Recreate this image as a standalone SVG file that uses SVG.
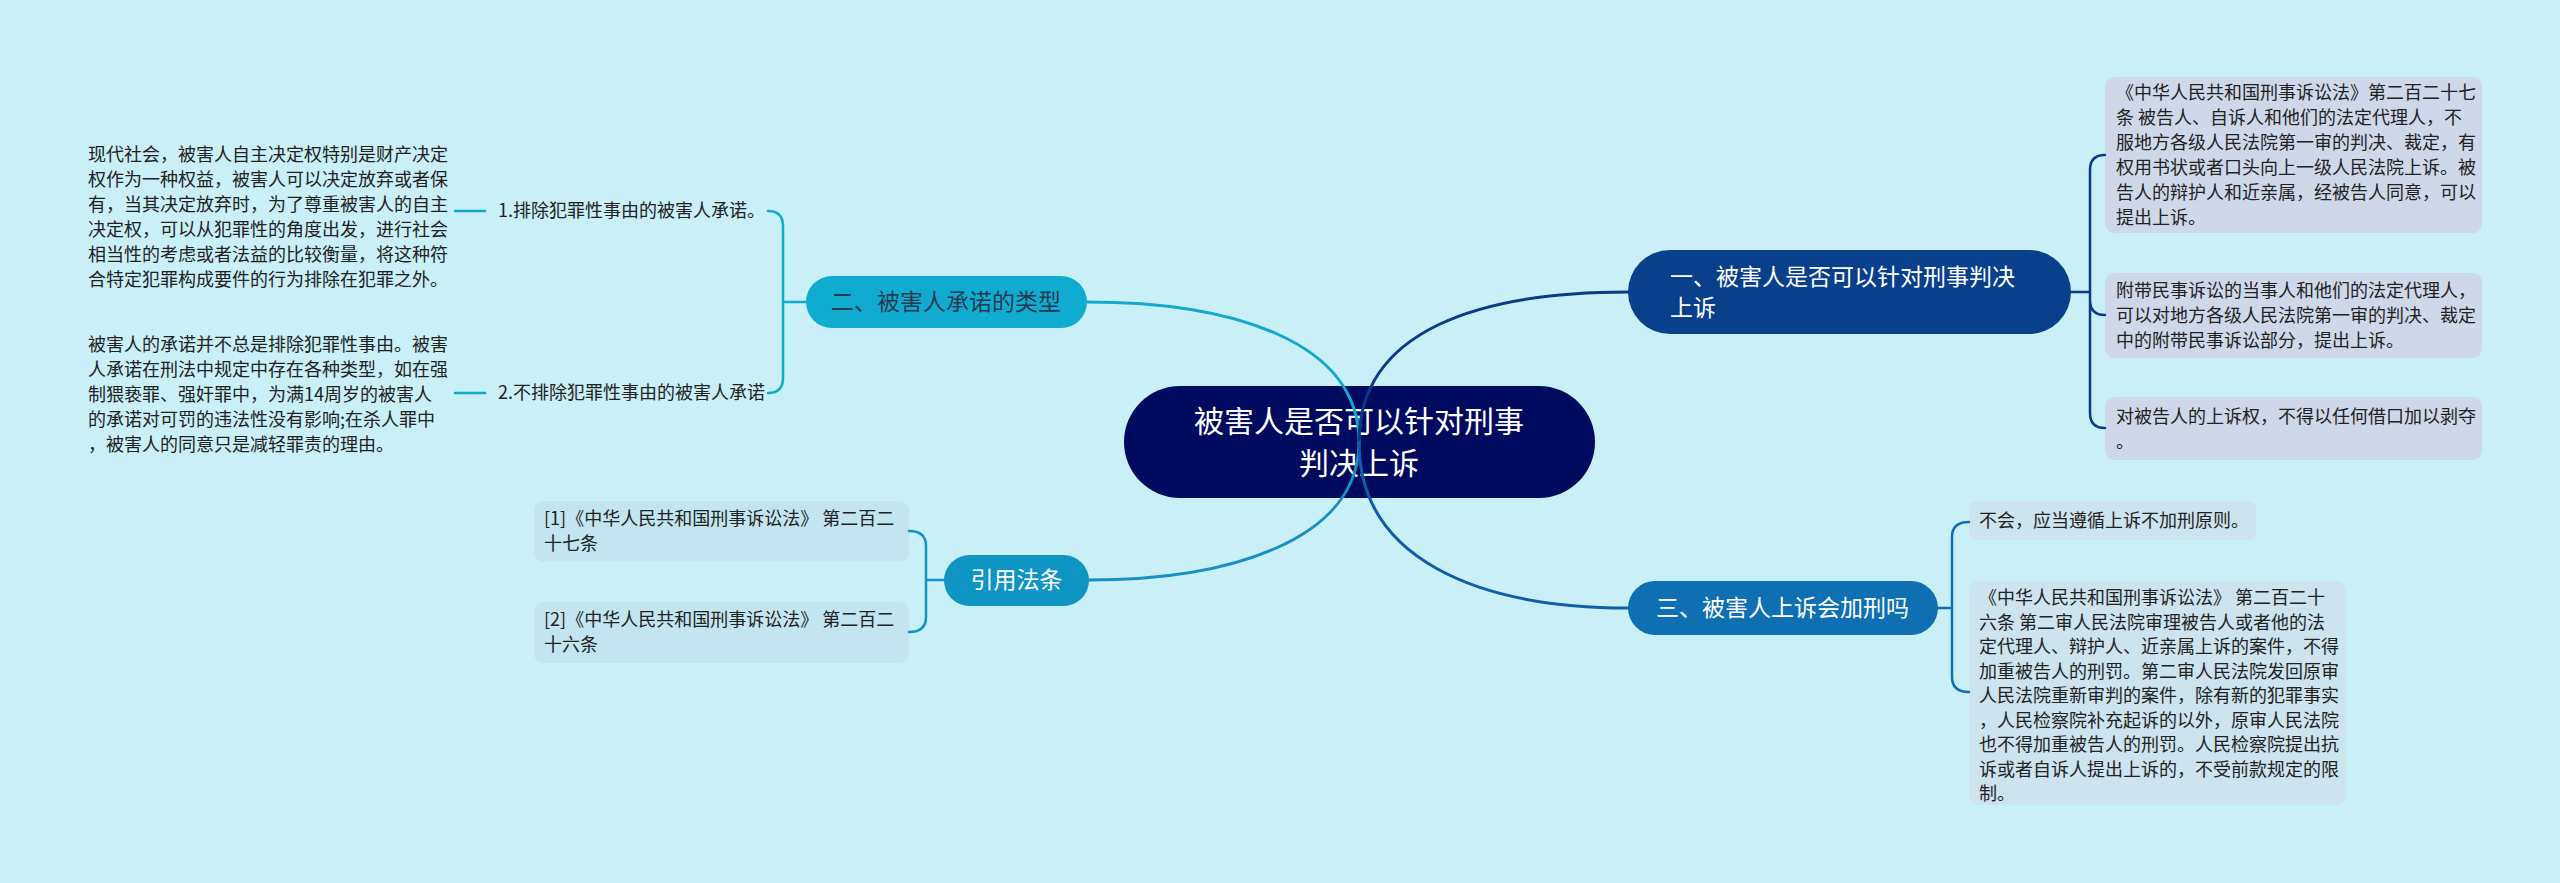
<svg xmlns="http://www.w3.org/2000/svg" width="2560" height="883" viewBox="0 0 2560 883">
<style>
text{font-family:"Noto Sans CJK SC","Noto Sans",sans-serif;}
.t18{font-size:18px;fill:#222;}
.n1{font-size:23px;fill:#fff;}
.n2{font-size:23px;fill:#263a52;}
.root{font-size:30px;fill:#fff;}
.c{fill:none;stroke-width:3;stroke-linecap:round;}
.b{fill:none;stroke-width:2.5;stroke-linecap:round;}
</style>
<rect x="0" y="0" width="2560" height="883" fill="#c9eff7"/>

<g id="node-root">
<rect x="1124" y="386" width="471" height="112" rx="56" fill="#000a5e"/>
<text class="root" x="1359" y="432" text-anchor="middle">被害人是否可以针对刑事</text>
<text class="root" x="1359" y="474" text-anchor="middle">判决上诉</text>
</g>

<g id="node-1">
<rect x="1628" y="250" width="443" height="84" rx="42" fill="#0a3f8c"/>
<text class="n1" x="1670" y="285">一、被害人是否可以针对刑事判决</text>
<text class="n1" x="1670" y="316">上诉</text>
</g>

<g id="node-1a">
<rect x="2105" y="77" width="377" height="156" rx="9" fill="#cfd8e9"/>
<text class="t18" x="2116" y="99">《中华人民共和国刑事诉讼法》第二百二十七</text>
<text class="t18" x="2116" y="124">条 被告人、自诉人和他们的法定代理人，不</text>
<text class="t18" x="2116" y="149">服地方各级人民法院第一审的判决、裁定，有</text>
<text class="t18" x="2116" y="174">权用书状或者口头向上一级人民法院上诉。被</text>
<text class="t18" x="2116" y="199">告人的辩护人和近亲属，经被告人同意，可以</text>
<text class="t18" x="2116" y="224">提出上诉。</text>
</g>

<g id="node-1b">
<rect x="2105" y="273" width="377" height="85" rx="9" fill="#cfd8e9"/>
<text class="t18" x="2116" y="297">附带民事诉讼的当事人和他们的法定代理人，</text>
<text class="t18" x="2116" y="322">可以对地方各级人民法院第一审的判决、裁定</text>
<text class="t18" x="2116" y="347">中的附带民事诉讼部分，提出上诉。</text>
</g>

<g id="node-1c">
<rect x="2105" y="397" width="377" height="63" rx="9" fill="#cfd8e9"/>
<text class="t18" x="2116" y="423">对被告人的上诉权，不得以任何借口加以剥夺</text>
<text class="t18" x="2116" y="448">。</text>
</g>

<g id="node-3">
<rect x="1628" y="581" width="310" height="54" rx="27" fill="#0e70b2"/>
<text class="n1" x="1656" y="616">三、被害人上诉会加刑吗</text>
</g>

<g id="node-3a">
<rect x="1969" y="501" width="287" height="39" rx="8" fill="#cde3ee"/>
<text class="t18" x="1979" y="527">不会，应当遵循上诉不加刑原则。</text>
</g>

<g id="node-3b">
<rect x="1969" y="581" width="377" height="224" rx="9" fill="#cde3ee"/>
<text class="t18" x="1979" y="604">《中华人民共和国刑事诉讼法》 第二百二十</text>
<text class="t18" x="1979" y="628.5">六条 第二审人民法院审理被告人或者他的法</text>
<text class="t18" x="1979" y="653">定代理人、辩护人、近亲属上诉的案件，不得</text>
<text class="t18" x="1979" y="677.5">加重被告人的刑罚。第二审人民法院发回原审</text>
<text class="t18" x="1979" y="702">人民法院重新审判的案件，除有新的犯罪事实</text>
<text class="t18" x="1979" y="726.5">，人民检察院补充起诉的以外，原审人民法院</text>
<text class="t18" x="1979" y="751">也不得加重被告人的刑罚。人民检察院提出抗</text>
<text class="t18" x="1979" y="775.5">诉或者自诉人提出上诉的，不受前款规定的限</text>
<text class="t18" x="1979" y="800">制。</text>
</g>

<g id="node-2">
<rect x="806" y="276" width="281" height="52" rx="26" fill="#10acd0"/>
<text class="n2" x="946" y="310" text-anchor="middle">二、被害人承诺的类型</text>
</g>

<g id="node-2a">
<text class="t18" x="498" y="217">1.排除犯罪性事由的被害人承诺。</text>
</g>
<g id="node-2a-text">
<text class="t18" x="88" y="161">现代社会，被害人自主决定权特别是财产决定</text>
<text class="t18" x="88" y="186">权作为一种权益，被害人可以决定放弃或者保</text>
<text class="t18" x="88" y="211">有，当其决定放弃时，为了尊重被害人的自主</text>
<text class="t18" x="88" y="236">决定权，可以从犯罪性的角度出发，进行社会</text>
<text class="t18" x="88" y="261">相当性的考虑或者法益的比较衡量，将这种符</text>
<text class="t18" x="88" y="286">合特定犯罪构成要件的行为排除在犯罪之外。</text>
</g>

<g id="node-2b">
<text class="t18" x="498" y="399">2.不排除犯罪性事由的被害人承诺</text>
</g>
<g id="node-2b-text">
<text class="t18" x="88" y="351">被害人的承诺并不总是排除犯罪性事由。被害</text>
<text class="t18" x="88" y="376">人承诺在刑法中规定中存在各种类型，如在强</text>
<text class="t18" x="88" y="401">制猥亵罪、强奸罪中，为满14周岁的被害人</text>
<text class="t18" x="88" y="426">的承诺对可罚的违法性没有影响;在杀人罪中</text>
<text class="t18" x="88" y="451">，被害人的同意只是减轻罪责的理由。</text>
</g>

<g id="node-4">
<rect x="944" y="555" width="145" height="51" rx="25.5" fill="#0f95c4"/>
<text class="n1" x="1016.5" y="588" text-anchor="middle">引用法条</text>
</g>

<g id="node-4a">
<rect x="534" y="501" width="375" height="61" rx="9" fill="#c3e5ef"/>
<text class="t18" x="544" y="525">[1]《中华人民共和国刑事诉讼法》 第二百二</text>
<text class="t18" x="544" y="550">十七条</text>
</g>

<g id="node-4b">
<rect x="534" y="602" width="375" height="61" rx="9" fill="#c3e5ef"/>
<text class="t18" x="544" y="626">[2]《中华人民共和国刑事诉讼法》 第二百二</text>
<text class="t18" x="544" y="651">十六条</text>
</g>

<g id="connectors">
<path class="c" stroke="#15a8cd" d="M1359,442 C1359,340 1230,302 1087,302"/>
<path class="c" stroke="#1a8fc4" d="M1359,442 C1359,540 1230,580 1089,580"/>
<path class="c" stroke="#0b3a88" d="M1359,442 C1359,330 1480,292 1628,292"/>
<path class="c" stroke="#0f5ea6" d="M1359,442 C1359,560 1480,608 1628,608"/>

<path class="b" stroke="#0b3a88" d="M2071,292 L2090,292 M2090,292 L2090,170 Q2090,155 2105,155 M2090,292 L2090,300 Q2090,315 2105,315 M2090,292 L2090,413 Q2090,428 2105,428"/>
<path class="b" stroke="#0e70b2" d="M1938,608 L1952,608 M1952,608 L1952,537 Q1952,522 1969,522 M1952,608 L1952,677 Q1952,692 1969,692"/>
<path class="b" stroke="#10acd0" d="M806,302 L783,302 M783,302 L783,226 Q783,211 768,211 M783,302 L783,378 Q783,393 768,393"/>
<path class="b" stroke="#10acd0" d="M455,211 L485,211 M455,393 L485,393"/>
<path class="b" stroke="#0f95c4" d="M944,580 L926,580 M926,580 L926,546 Q926,531 909,531 M926,580 L926,617 Q926,632 909,632"/>
</g>
</svg>
